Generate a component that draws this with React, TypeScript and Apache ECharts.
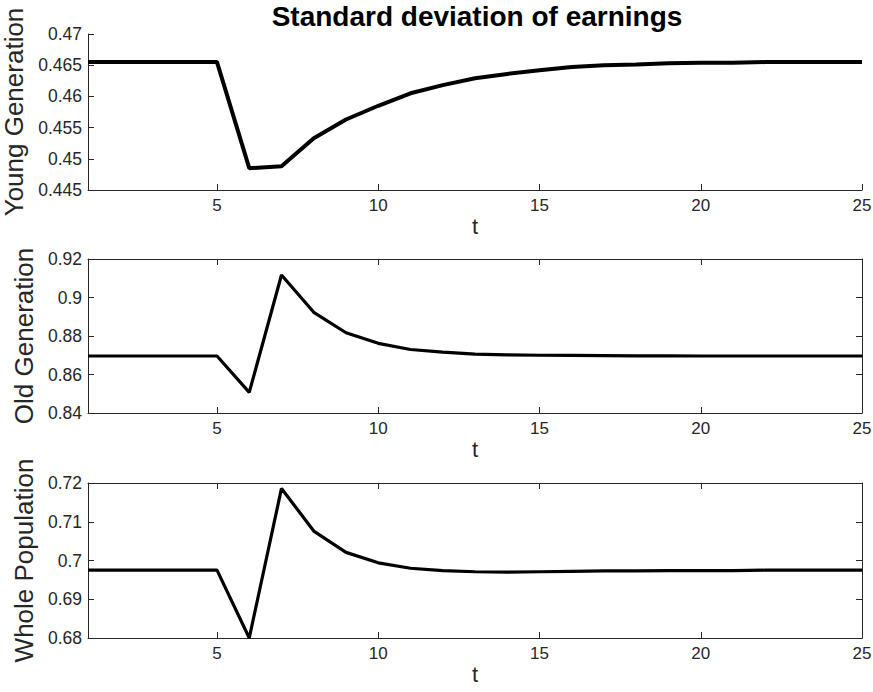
import React, { useEffect, useRef } from "react";
import * as echarts from "echarts";

const periods = [1, 2, 3, 4, 5, 6, 7, 8, 9, 10, 11, 12, 13, 14, 15, 16, 17, 18, 19, 20, 21, 22, 23, 24, 25];
const youngGen = [0.4655, 0.4655, 0.4655, 0.4655, 0.4655, 0.4485, 0.4488, 0.4533, 0.4563, 0.4585, 0.4605, 0.4618, 0.4629, 0.4636, 0.4642, 0.4647, 0.465, 0.4651, 0.4653, 0.4654, 0.4654, 0.4655, 0.4655, 0.4655, 0.4655];
const oldGen = [0.8696, 0.8696, 0.8696, 0.8696, 0.8696, 0.8507, 0.9117, 0.8923, 0.8817, 0.8762, 0.873, 0.8716, 0.8706, 0.8702, 0.87, 0.8699, 0.8698, 0.8697, 0.8697, 0.8696, 0.8696, 0.8696, 0.8696, 0.8696, 0.8696];
const wholePop = [0.6975, 0.6975, 0.6975, 0.6975, 0.6975, 0.68, 0.7186, 0.7076, 0.7021, 0.6994, 0.698, 0.6974, 0.6971, 0.697, 0.6971, 0.6972, 0.6973, 0.6973, 0.6974, 0.6974, 0.6974, 0.6975, 0.6975, 0.6975, 0.6975];
const xTicks = [5, 10, 15, 20, 25];
const yLabels = ["Young Generation", "Old Generation", "Whole Population"];
const yRanges = [
  { min: 0.445, max: 0.47, interval: 0.005 },
  { min: 0.84, max: 0.92, interval: 0.02 },
  { min: 0.68, max: 0.72, interval: 0.01 },
];
const titleText = "Standard deviation of earnings";

const FONT = "'Liberation Sans', Arial, Helvetica, sans-serif";
const AX = "#262626";

export default function App() {
  const ref = useRef<HTMLDivElement>(null);
  useEffect(() => {
    if (!ref.current) return;
    const chart = echarts.init(ref.current, null, { renderer: "svg" });
    const grids = [
      { left: 88, right: 11, top: 34, height: 156, outerBoundsMode: "none", containLabel: false },
      { left: 88, right: 11, top: 259, height: 154, outerBoundsMode: "none", containLabel: false },
      { left: 88, right: 11, top: 483, height: 155, outerBoundsMode: "none", containLabel: false },
    ];
    const axisLine = { show: true, lineStyle: { color: AX, width: 1 } };
    const xAxes: any[] = [];
    const yAxes: any[] = [];
    grids.forEach((_, i) => {
      xAxes.push({
        type: "value",
        gridIndex: i,
        min: 1,
        max: 25,
        position: "bottom",
        axisLine,
        axisTick: { show: true, inside: true, length: 6, customValues: xTicks, lineStyle: { color: AX } },
        axisLabel: { customValues: xTicks, fontSize: 17, color: AX, fontFamily: FONT, margin: 7 },
        splitLine: { show: false },
        name: "t",
        nameLocation: "middle",
        nameGap: 25,
        nameTextStyle: { fontSize: 22, color: AX, fontFamily: FONT },
      });
      const r = yRanges[i];
      yAxes.push({
        type: "value",
        gridIndex: i,
        min: r.min,
        max: r.max,
        interval: r.interval,
        position: "left",
        axisLine,
        axisTick: { show: true, inside: true, length: 6, lineStyle: { color: AX } },
        axisLabel: {
          fontSize: 17.5,
          color: AX,
          fontFamily: FONT,
          margin: 6,
          formatter: (v: number) => String(+v.toFixed(4)),
        },
        splitLine: { show: false },
        name: yLabels[i],
        nameLocation: "middle",
        nameRotate: 90,
        nameGap: 51,
        nameTextStyle: { fontSize: 26, color: AX, fontFamily: FONT },
      });
    });
    [1, 2].forEach((i) => {
      const r = yRanges[i];
      xAxes.push({
        type: "value",
        gridIndex: i,
        min: 1,
        max: 25,
        position: "top",
        axisLine,
        axisTick: { show: true, inside: true, length: 6, customValues: xTicks, lineStyle: { color: AX } },
        axisLabel: { show: false },
        splitLine: { show: false },
      });
      yAxes.push({
        type: "value",
        gridIndex: i,
        min: r.min,
        max: r.max,
        interval: r.interval,
        position: "right",
        axisLine,
        axisTick: { show: true, inside: true, length: 6, lineStyle: { color: AX } },
        axisLabel: { show: false },
        splitLine: { show: false },
      });
    });
    const seriesData = [youngGen, oldGen, wholePop];
    const widths = [4, 3.2, 3.2];
    chart.setOption({
      animation: false,
      backgroundColor: "#ffffff",
      title: {
        text: titleText,
        left: 472,
        top: -3,
        textAlign: "center",
        textStyle: { fontSize: 28, fontWeight: "bold", color: "#000", fontFamily: FONT },
      },
      grid: grids,
      xAxis: xAxes,
      yAxis: yAxes,
      series: seriesData.map((d, i) => ({
        type: "line",
        xAxisIndex: i,
        yAxisIndex: i,
        data: periods.map((p, k) => [p, d[k]]),
        showSymbol: false,
        symbol: "none",
        clip: false,
        lineStyle: { color: "#000", width: widths[i] },
      })),
    });
    return () => chart.dispose();
  }, []);
  return (
    <div
      ref={ref}
      style={{ position: "fixed", left: 0, top: 0, width: 873, height: 692, background: "#fff" }}
    />
  );
}
